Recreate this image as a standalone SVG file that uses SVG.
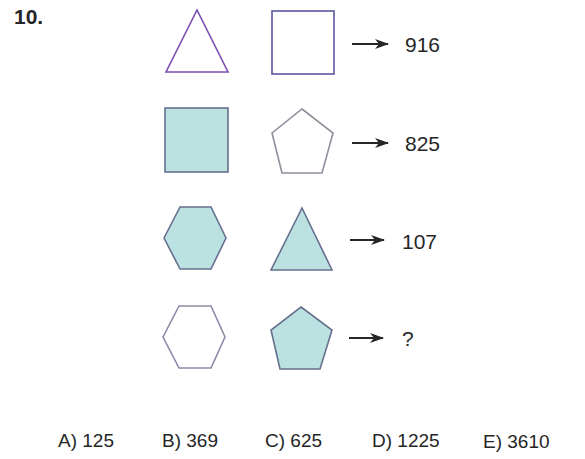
<svg xmlns="http://www.w3.org/2000/svg" width="585" height="459" viewBox="0 0 585 459">
<defs>
<style>
text{font-family:"Liberation Sans",Arial,sans-serif;fill:#262626;}
.num{font-size:21px;}
.ans{font-size:19px;}
.fill{fill:#bce1e1;stroke:#66708e;stroke-width:1.6;}
.out{fill:#fff;stroke:#8c8aa6;stroke-width:1.6;}
.arr{stroke:#262626;stroke-width:1.8;fill:none;}
</style>
<marker id="ah" viewBox="0 0 14 10" refX="13" refY="5" markerWidth="14" markerHeight="10" markerUnits="userSpaceOnUse" orient="auto">
<path d="M0,0 L14,5 L0,10 L4,5 Z" fill="#262626"/>
</marker>
</defs>
<rect width="585" height="459" fill="#fff"/>
<text x="14" y="24" style="font-size:21px;font-weight:bold;">10.</text>
<g id="r1c1"><polygon points="197,10 166,72 228,72" fill="#fff" stroke="#7a4db3" stroke-width="1.6"/></g>
<g id="r1c2"><rect x="272" y="11" width="62" height="63" fill="#fff" stroke="#5a57a0" stroke-width="1.6"/></g>
<g id="r2c1"><rect x="165" y="108" width="63" height="64" class="fill"/></g>
<g id="r2c2"><polygon points="302,109 333,133 322,173 282,173 272,133" fill="#fff" stroke="#8f8f9d" stroke-width="1.6"/></g>
<g id="r3c1"><polygon points="164,238 180,207 211,207 226,238 211,269 180,269" class="fill"/></g>
<g id="r3c2"><polygon points="302,208 332,270 271,270" class="fill"/></g>
<g id="r4c1"><polygon points="163,337 179,306 211,306 225,337 211,368 179,368" class="out"/></g>
<g id="r4c2"><polygon points="301,307 332,330 320,369 280,369 271,330" class="fill"/></g>
<g id="connectors">
<line x1="352" y1="44" x2="388" y2="44" class="arr" marker-end="url(#ah)"/>
<line x1="352" y1="143" x2="388" y2="143" class="arr" marker-end="url(#ah)"/>
<line x1="350" y1="240" x2="384" y2="240" class="arr" marker-end="url(#ah)"/>
<line x1="349" y1="338" x2="383" y2="338" class="arr" marker-end="url(#ah)"/>
</g>
<g id="results">
<text x="405" y="52" class="num">916</text>
<text x="405" y="151" class="num">825</text>
<text x="402" y="249" class="num">107</text>
<text x="402" y="346" class="num">?</text>
</g>
<g id="answers">
<text x="58" y="447" class="ans">A) 125</text>
<text x="162" y="447" class="ans">B) 369</text>
<text x="265" y="447" class="ans">C) 625</text>
<text x="372" y="447" class="ans">D) 1225</text>
<text x="483" y="448" class="ans">E) 3610</text>
</g>
</svg>
